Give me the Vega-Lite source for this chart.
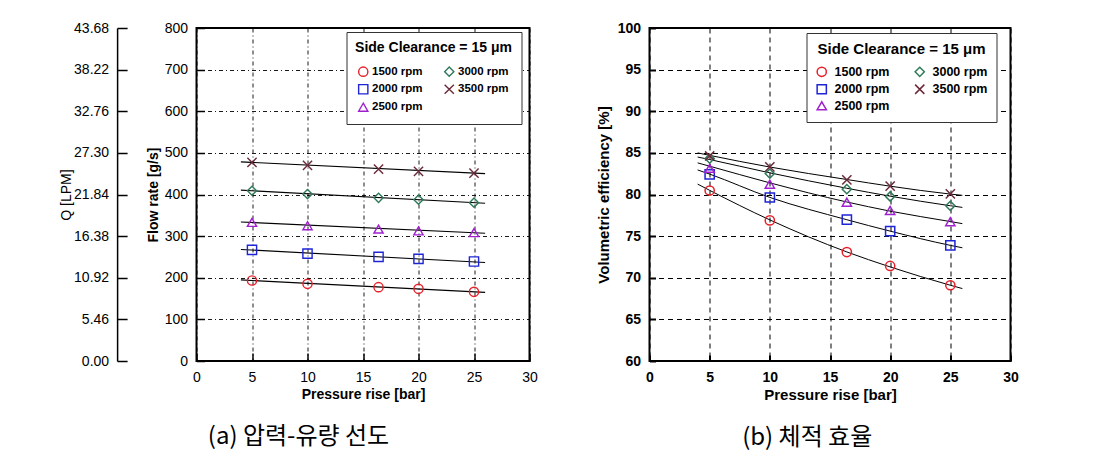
{
  "$schema": "https://vega.github.io/schema/vega-lite/v6.json",
  "background": "white",
  "padding": {"left": 58.5, "top": 20, "right": 5, "bottom": 5},
  "config": {
    "view": {"stroke": "black", "strokeWidth": 2},
    "font": "Liberation Sans",
    "axis": {"labelFont": "Liberation Sans", "titleFont": "Liberation Sans", "labelColor": "black", "titleColor": "black", "domain": false, "gridColor": "black", "tickColor": "black", "labelFlush": false},
    "legend": {"labelFont": "Liberation Sans", "titleFont": "Liberation Sans"},
    "title": {"font": "Noto Sans CJK KR", "fontSize": 24, "fontWeight": "normal", "color": "black"}
  },
  "datasets": {
    "flow": [
      {"p": 5, "v": 193.4, "s": "1500 rpm"}, {"p": 10, "v": 185.4, "s": "1500 rpm"}, {"p": 16.4, "v": 177.4, "s": "1500 rpm"}, {"p": 20, "v": 173.4, "s": "1500 rpm"}, {"p": 25, "v": 166.2, "s": "1500 rpm"},
      {"p": 5, "v": 266.9, "s": "2000 rpm"}, {"p": 10, "v": 258.1, "s": "2000 rpm"}, {"p": 16.4, "v": 250.1, "s": "2000 rpm"}, {"p": 20, "v": 245.3, "s": "2000 rpm"}, {"p": 25, "v": 239, "s": "2000 rpm"},
      {"p": 5, "v": 333, "s": "2500 rpm"}, {"p": 10, "v": 325, "s": "2500 rpm"}, {"p": 16.4, "v": 317, "s": "2500 rpm"}, {"p": 20, "v": 312.5, "s": "2500 rpm"}, {"p": 25, "v": 308.5, "s": "2500 rpm"},
      {"p": 5, "v": 409, "s": "3000 rpm"}, {"p": 10, "v": 401, "s": "3000 rpm"}, {"p": 16.4, "v": 392, "s": "3000 rpm"}, {"p": 20, "v": 387.6, "s": "3000 rpm"}, {"p": 25, "v": 380.4, "s": "3000 rpm"},
      {"p": 5, "v": 477, "s": "3500 rpm"}, {"p": 10, "v": 470, "s": "3500 rpm"}, {"p": 16.4, "v": 461, "s": "3500 rpm"}, {"p": 20, "v": 455.5, "s": "3500 rpm"}, {"p": 25, "v": 451.5, "s": "3500 rpm"}
    ],
    "flowfit": [
      {"p": 4, "v": 194.8, "s": "1500 rpm"}, {"p": 26, "v": 164.8, "s": "1500 rpm"},
      {"p": 4, "v": 268, "s": "2000 rpm"}, {"p": 26, "v": 236.5, "s": "2000 rpm"},
      {"p": 4, "v": 334, "s": "2500 rpm"}, {"p": 26, "v": 307, "s": "2500 rpm"},
      {"p": 4, "v": 410.4, "s": "3000 rpm"}, {"p": 26, "v": 379, "s": "3000 rpm"},
      {"p": 4, "v": 478.3, "s": "3500 rpm"}, {"p": 26, "v": 450.2, "s": "3500 rpm"}
    ],
    "eff": [
      {"p": 5, "v": 80.48, "s": "1500 rpm"}, {"p": 10, "v": 76.89, "s": "1500 rpm"}, {"p": 16.4, "v": 73.09, "s": "1500 rpm"}, {"p": 20, "v": 71.42, "s": "1500 rpm"}, {"p": 25, "v": 69.1, "s": "1500 rpm"},
      {"p": 5, "v": 82.43, "s": "2000 rpm"}, {"p": 10, "v": 79.64, "s": "2000 rpm"}, {"p": 16.4, "v": 76.97, "s": "2000 rpm"}, {"p": 20, "v": 75.61, "s": "2000 rpm"}, {"p": 25, "v": 73.89, "s": "2000 rpm"},
      {"p": 5, "v": 83.15, "s": "2500 rpm"}, {"p": 10, "v": 81.24, "s": "2500 rpm"}, {"p": 16.4, "v": 79.08, "s": "2500 rpm"}, {"p": 20, "v": 78.08, "s": "2500 rpm"}, {"p": 25, "v": 76.73, "s": "2500 rpm"},
      {"p": 5, "v": 84.31, "s": "3000 rpm"}, {"p": 10, "v": 82.51, "s": "3000 rpm"}, {"p": 16.4, "v": 80.64, "s": "3000 rpm"}, {"p": 20, "v": 79.76, "s": "3000 rpm"}, {"p": 25, "v": 78.64, "s": "3000 rpm"},
      {"p": 5, "v": 84.63, "s": "3500 rpm"}, {"p": 10, "v": 83.31, "s": "3500 rpm"}, {"p": 16.4, "v": 81.76, "s": "3500 rpm"}, {"p": 20, "v": 81.0, "s": "3500 rpm"}, {"p": 25, "v": 80.08, "s": "3500 rpm"}
    ],
    "efffit": [
      {"p": 4, "v": 81.25, "s": "1500 rpm"}, {"p": 5, "v": 80.5, "s": "1500 rpm"}, {"p": 10, "v": 76.95, "s": "1500 rpm"}, {"p": 16.4, "v": 73.1, "s": "1500 rpm"}, {"p": 20, "v": 71.3, "s": "1500 rpm"}, {"p": 25, "v": 69.1, "s": "1500 rpm"}, {"p": 26, "v": 68.7, "s": "1500 rpm"},
      {"p": 4, "v": 82.95, "s": "2000 rpm"}, {"p": 5, "v": 82.45, "s": "2000 rpm"}, {"p": 10, "v": 79.65, "s": "2000 rpm"}, {"p": 16.4, "v": 76.97, "s": "2000 rpm"}, {"p": 20, "v": 75.6, "s": "2000 rpm"}, {"p": 25, "v": 73.89, "s": "2000 rpm"}, {"p": 26, "v": 73.6, "s": "2000 rpm"},
      {"p": 4, "v": 83.8, "s": "2500 rpm"}, {"p": 5, "v": 83.4, "s": "2500 rpm"}, {"p": 10, "v": 81.4, "s": "2500 rpm"}, {"p": 16.4, "v": 79.1, "s": "2500 rpm"}, {"p": 20, "v": 78.0, "s": "2500 rpm"}, {"p": 25, "v": 76.75, "s": "2500 rpm"}, {"p": 26, "v": 76.5, "s": "2500 rpm"},
      {"p": 4, "v": 84.5, "s": "3000 rpm"}, {"p": 5, "v": 84.2, "s": "3000 rpm"}, {"p": 10, "v": 82.6, "s": "3000 rpm"}, {"p": 16.4, "v": 80.75, "s": "3000 rpm"}, {"p": 20, "v": 79.8, "s": "3000 rpm"}, {"p": 25, "v": 78.65, "s": "3000 rpm"}, {"p": 26, "v": 78.45, "s": "3000 rpm"},
      {"p": 4, "v": 85.0, "s": "3500 rpm"}, {"p": 5, "v": 84.7, "s": "3500 rpm"}, {"p": 10, "v": 83.3, "s": "3500 rpm"}, {"p": 16.4, "v": 81.8, "s": "3500 rpm"}, {"p": 20, "v": 81.0, "s": "3500 rpm"}, {"p": 25, "v": 80.05, "s": "3500 rpm"}, {"p": 26, "v": 79.9, "s": "3500 rpm"}
    ]
  },
  "spacing": 56,
  "resolve": {
    "scale": {"color": "independent", "shape": "independent"},
    "legend": {"color": "independent", "shape": "independent"}
  },
  "hconcat": [
    {
      "title": {"text": "(a) 압력-유량 선도", "orient": "bottom", "anchor": "middle", "frame": "bounds", "offset": 24},
      "width": 333,
      "height": 333,
      "resolve": {"scale": {"y": "independent"}},
      "layer": [
        {
          "layer": [
            {
              "data": {"name": "flowfit"},
              "mark": {"type": "line", "color": "black", "strokeWidth": 1.1},
              "encoding": {
                "x": {"field": "p", "type": "quantitative", "scale": {"domain": [0, 30], "nice": false},
                  "axis": {"values": [0, 5, 10, 15, 20, 25, 30], "grid": true, "gridDash": [4, 3, 1, 3], "gridWidth": 0.9, "tickSize": -8, "tickWidth": 1.5, "labelFontSize": 14, "labelPadding": 17, "title": "Pressure rise [bar]", "titleFontSize": 14, "titleFontWeight": "bold", "titlePadding": 3}},
                "y": {"field": "v", "type": "quantitative", "scale": {"domain": [0, 800], "nice": false},
                  "axis": {"values": [0, 100, 200, 300, 400, 500, 600, 700, 800], "grid": true, "gridDash": [4, 3, 1, 3], "gridWidth": 0.9, "tickSize": -8, "tickWidth": 1.5, "labelFontSize": 14, "labelPadding": 17, "title": "Flow rate [g/s]", "titleFontSize": 14, "titleFontWeight": "bold", "titlePadding": 4}},
                "detail": {"field": "s"}
              }
            },
            {
              "data": {"name": "flow"},
              "mark": {"type": "point", "filled": false, "strokeWidth": 1.4, "size": 85, "opacity": 1},
              "encoding": {
                "x": {"field": "p", "type": "quantitative"},
                "y": {"field": "v", "type": "quantitative"},
                "color": {"field": "s", "type": "nominal",
                  "scale": {"domain": ["1500 rpm", "2000 rpm", "2500 rpm", "3000 rpm", "3500 rpm"], "range": ["#e8202a", "#1f24d6", "#a020d0", "#2f7a5a", "#6a2a3a"]},
                  "legend": {"title": "Side Clearance = 15 μm", "orient": "none", "legendX": 150, "legendY": 4, "columns": 2, "padding": 9, "strokeColor": "#333", "fillColor": "white", "titleFontSize": 14, "titleFontWeight": "bold", "titleColor": "black", "titleAnchor": "middle", "titlePadding": 10.5, "labelFontSize": 11.5, "labelFontWeight": "bold", "labelColor": "black", "labelOffset": 3, "rowPadding": 2, "columnPadding": 18, "symbolSize": 85, "symbolStrokeWidth": 1.4}},
                "shape": {"field": "s", "type": "nominal",
                  "scale": {"domain": ["1500 rpm", "2000 rpm", "2500 rpm", "3000 rpm", "3500 rpm"], "range": ["circle", "square", "triangle-up", "diamond", "M-1,-1L1,1M-1,1L1,-1"]},
                  "legend": {"title": "Side Clearance = 15 μm", "orient": "none", "legendX": 150, "legendY": 4, "columns": 2}}
              }
            }
          ]
        },
        {
          "data": {"name": "flowfit"},
          "mark": {"type": "point", "opacity": 0},
          "encoding": {
            "y": {"datum": 0, "type": "quantitative", "scale": {"domain": [0, 43.68], "nice": false},
              "axis": {"orient": "left", "offset": 79.4, "values": [0, 5.46, 10.92, 16.38, 21.84, 27.3, 32.76, 38.22, 43.68], "format": ".2f", "grid": false, "domain": true, "domainColor": "black", "domainWidth": 1.5, "ticks": true, "tickSize": -10, "tickWidth": 1.5, "labelFontSize": 14, "labelPadding": 18.5, "title": "Q [LPM]", "titleFontSize": 14, "titleFontWeight": "normal", "titlePadding": 0}}
          }
        }
      ]
    },
    {
      "title": {"text": "(b) 체적 효율", "orient": "bottom", "anchor": "middle", "frame": "bounds", "offset": 24},
      "width": 361,
      "height": 333,
      "layer": [
        {
          "data": {"name": "efffit"},
          "mark": {"type": "line", "color": "black", "strokeWidth": 1, "interpolate": "monotone"},
          "encoding": {
            "x": {"field": "p", "type": "quantitative", "scale": {"domain": [0, 30], "nice": false},
              "axis": {"values": [0, 5, 10, 15, 20, 25, 30], "grid": true, "gridDash": [5, 4], "gridWidth": 1, "tickSize": -6, "tickWidth": 2, "labelFontSize": 14, "labelFontWeight": "bold", "labelPadding": 15, "title": "Pressure rise [bar]", "titleFontSize": 15, "titleFontWeight": "bold", "titlePadding": 3}},
            "y": {"field": "v", "type": "quantitative", "scale": {"domain": [60, 100], "nice": false},
              "axis": {"values": [60, 65, 70, 75, 80, 85, 90, 95, 100], "grid": true, "gridDash": [5, 4], "gridWidth": 1, "tickSize": -6, "tickWidth": 2, "labelFontSize": 14, "labelFontWeight": "bold", "labelPadding": 15, "title": "Volumetric efficiency [%]", "titleFontSize": 15, "titleFontWeight": "bold", "titlePadding": 6}},
            "detail": {"field": "s"}
          }
        },
        {
          "data": {"name": "eff"},
          "mark": {"type": "point", "filled": false, "strokeWidth": 1.5, "size": 85, "opacity": 1},
          "encoding": {
            "x": {"field": "p", "type": "quantitative"},
            "y": {"field": "v", "type": "quantitative"},
            "color": {"field": "s", "type": "nominal",
              "scale": {"domain": ["1500 rpm", "2000 rpm", "2500 rpm", "3000 rpm", "3500 rpm"], "range": ["#e8202a", "#1f24d6", "#a020d0", "#2f7a5a", "#6a2a3a"]},
              "legend": {"title": "Side Clearance = 15 μm", "orient": "none", "legendX": 157, "legendY": 5, "columns": 2, "padding": 9, "strokeColor": "#333", "fillColor": "white", "titleFontSize": 15, "titleFontWeight": "bold", "titleColor": "black", "titleAnchor": "middle", "titlePadding": 8.5, "labelFontSize": 12.5, "labelFontWeight": "bold", "labelColor": "black", "labelOffset": 6.5, "rowPadding": 1.5, "columnPadding": 22, "symbolSize": 85, "symbolStrokeWidth": 1.5}},
            "shape": {"field": "s", "type": "nominal",
              "scale": {"domain": ["1500 rpm", "2000 rpm", "2500 rpm", "3000 rpm", "3500 rpm"], "range": ["circle", "square", "triangle-up", "diamond", "M-1,-1L1,1M-1,1L1,-1"]},
              "legend": {"title": "Side Clearance = 15 μm", "orient": "none", "legendX": 157, "legendY": 5, "columns": 2}}
          }
        }
      ]
    }
  ]
}
